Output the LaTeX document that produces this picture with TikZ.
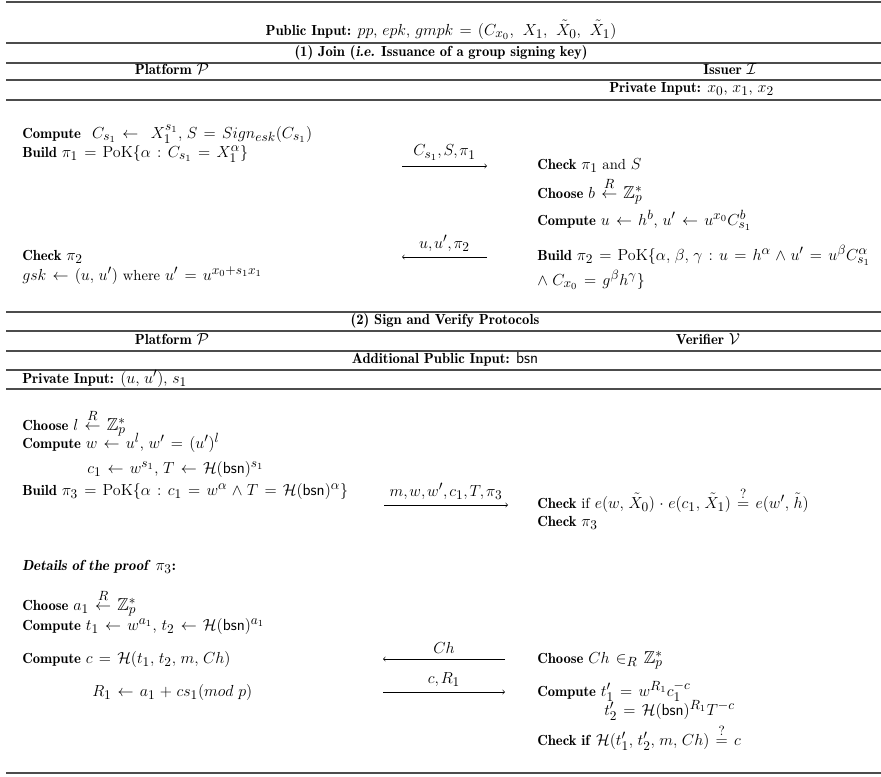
\documentclass[tikz,border=0pt,11pt]{standalone}
\usepackage{amsmath,amssymb}
\DeclareMathSizes{10.95}{13}{10}{7.5}
\renewcommand{\bfdefault}{b}
\thinmuskip=5mu
\medmuskip=5mu plus 2mu minus 4mu
\thickmuskip=7mu plus 5mu

\begin{document}
\begin{tikzpicture}[x=0.75pt, y=0.75pt, yscale=-1, >=to,
  every node/.style={font=\normalsize, inner sep=0pt},
  txt/.style={anchor=base west},
  hd/.style={anchor=base, font=\bfseries},
  lbl/.style={above=4pt, font={\thinmuskip=2mu}},
  hrule/.style={line width=1.1pt, black!70},
  msg/.style={->, line width=0.45pt}]
  \useasboundingbox (0,0) rectangle (881,776);

  % table rules
  \draw[hrule] (6,2) -- (881,2);
  \foreach \y in {43,63,80,100,312,331,351,370,389}
    \draw[hrule] (6,\y) -- (881,\y);
  \draw[hrule] (6,773) -- (881,773);

  % (1) join
  \node[hd] (pubin) at (441,35)
    {Public Input: \normalfont$pp$, $epk$, $gmpk = (C_{x_0},\, X_1,\, \tilde{X}_0,\, \tilde{X}_1)$};
  \node[hd] (join) at (441,56) {(1) Join (\textit{i.e.} Issuance of a group signing key)};
  \node[hd] (plat1) at (172,74) {Platform \normalfont$\mathcal{P}$};
  \node[hd] (issuer) at (730,74) {Issuer \normalfont$\mathcal{I}$};
  \node[txt] (privI) at (609,92) {\textbf{Private Input:} $x_0$, $x_1$, $x_2$};

  \node[txt] (compC) at (22,138)
    {\textbf{Compute} $\;C_{s_1} \leftarrow\; X_1^{s_1}, S = Sign_{esk}(C_{s_1})$};
  \node[txt] (build1) at (22,157) {\textbf{Build} $\pi_1 = \mathrm{PoK}\{\alpha : C_{s_1} = X_1^{\alpha}\}$};
  \node[txt] (check2) at (22,260) {\textbf{Check} $\pi_2$};
  \node[txt] (gsk) at (22,280) {$gsk \leftarrow (u, u')$ where $u' = u^{x_0+s_1x_1}$};

  \node[txt] (check1) at (537,169) {\textbf{Check} $\pi_1$ and $S$};
  \node[txt] (chooseb) at (537,198) {\textbf{Choose} $b \stackrel{R}{\leftarrow} \mathbb{Z}_p^*$};
  \node[txt] (compu) at (537,225) {\textbf{Compute} $u \leftarrow h^b$, $u' \leftarrow u^{x_0} C_{s_1}^b$};
  \node[txt] (build2) at (537,260)
    {\textbf{Build} $\pi_2 = \mathrm{PoK}\{\alpha, \beta, \gamma : u = h^{\alpha} \wedge u' = u^{\beta} C_{s_1}^{\alpha}$};
  \node[txt] (build2b) at (537,285) {$\wedge\, C_{x_0} = g^{\beta} h^{\gamma}\}$};

  \coordinate (s1a) at (402,166);
  \coordinate (s1b) at (487,166);
  \coordinate (r1a) at (402,257);
  \coordinate (r1b) at (487,257);
  \draw[msg] (s1a) -- node[lbl] {$C_{s_1}, S, \pi_1$} (s1b);
  \draw[msg] (r1b) -- node[lbl] {$u, u', \pi_2$} (r1a);

  % (2) sign and verify
  \node[hd] (sign) at (445,324) {(2) Sign and Verify Protocols};
  \node[hd] (plat2) at (172,344) {Platform \normalfont$\mathcal{P}$};
  \node[hd] (verif) at (708,344) {Verifier \normalfont$\mathcal{V}$};
  \node[hd] (addin) at (445,363) {Additional Public Input: \normalfont$\mathsf{bsn}$};
  \node[txt] (privP) at (22,383) {\textbf{Private Input:} $(u, u')$, $s_1$};

  \node[txt] (choosel) at (22,430) {\textbf{Choose} $l \stackrel{R}{\leftarrow} \mathbb{Z}_p^*$};
  \node[txt] (compw) at (22,448) {\textbf{Compute} $w \leftarrow u^l$, $w' = (u')^l$};
  \node[txt] (compc1) at (87,473) {$c_1 \leftarrow w^{s_1}$, $T \leftarrow \mathcal{H}(\mathsf{bsn})^{s_1}$};
  \node[txt] (build3) at (22,495)
    {\textbf{Build} $\pi_3 = \mathrm{PoK}\{\alpha : c_1 = w^{\alpha} \wedge T = \mathcal{H}(\mathsf{bsn})^{\alpha}\}$};

  \node[txt] (checke) at (537,508)
    {\textbf{Check} if $e(w, \tilde{X}_0) \cdot e(c_1, \tilde{X}_1) \stackrel{?}{=} e(w', \tilde{h})$};
  \node[txt] (check3) at (537,526) {\textbf{Check} $\pi_3$};

  \coordinate (s3a) at (384,505);
  \coordinate (s3b) at (508,505);
  \draw[msg] (s3a) -- node[lbl] {$m, w, w', c_1, T, \pi_3$} (s3b);

  % details of the proof
  \node[txt] (details) at (22,570) {\textbf{\textit{Details of the proof}} $\pi_3$\textbf{:}};
  \node[txt] (choosea) at (22,610) {\textbf{Choose} $a_1 \stackrel{R}{\leftarrow} \mathbb{Z}_p^*$};
  \node[txt] (compt) at (22,630)
    {\textbf{Compute} $t_1 \leftarrow w^{a_1}$, $t_2 \leftarrow \mathcal{H}(\mathsf{bsn})^{a_1}$};
  \node[txt] (compc) at (22,663) {\textbf{Compute} $c = \mathcal{H}(t_1, t_2, m, Ch)$};
  \node[txt] (compR) at (92,696) {$R_1 \leftarrow a_1 + cs_1(mod\ p)$};

  \node[txt] (choosech) at (537,663) {\textbf{Choose} $Ch \in_R \mathbb{Z}_p^*$};
  \node[txt] (compt1) at (537,696) {\textbf{Compute} $t_1' = w^{R_1} c_1^{-c}$};
  \node[txt] (compt2) at (604,715) {$t_2' = \mathcal{H}(\mathsf{bsn})^{R_1} T^{-c}$};
  \node[txt] (checkh) at (537,745) {\textbf{Check if} $\mathcal{H}(t_1', t_2', m, Ch) \stackrel{?}{=} c$};

  \coordinate (chl) at (383,659);
  \coordinate (chr) at (505,659);
  \coordinate (crl) at (383,692);
  \coordinate (crr) at (505,692);
  \draw[msg] (chr) -- node[lbl] {$Ch$} (chl);
  \draw[msg] (crl) -- node[lbl] {$c, R_1$} (crr);
\end{tikzpicture}
\end{document}
